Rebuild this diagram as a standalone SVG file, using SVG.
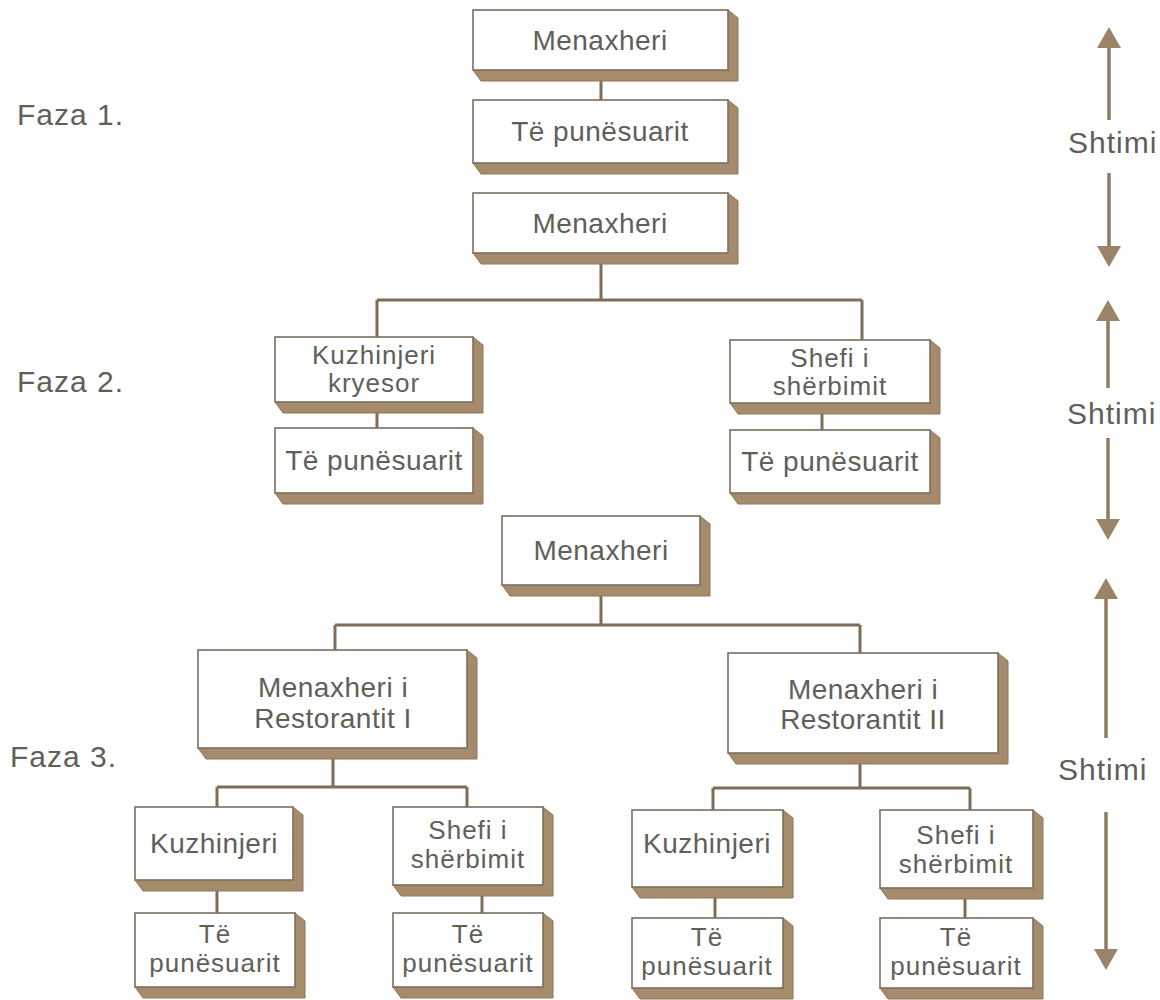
<svg xmlns="http://www.w3.org/2000/svg" width="1160" height="1000" viewBox="0 0 1160 1000">
  <style>
    .box { fill: #ffffff; stroke: #7a6e5e; stroke-width: 1.6; }
    .shade { fill: #a58b6b; stroke: #8d765a; stroke-width: 1; }
    .lbl { font-family: "Liberation Sans", Arial, sans-serif; font-size: 28px; letter-spacing: 0.5px; fill: #606059; text-anchor: middle; }
    .two { font-size: 26px; letter-spacing: 1px; }
    .side { font-family: "Liberation Sans", Arial, sans-serif; font-size: 30px; letter-spacing: 1px; fill: #606059; }
    .link { fill: none; stroke: #7e6d57; stroke-width: 3; }
    .shaft { stroke: #8f7b62; stroke-width: 3.5; }
    .head { fill: #9a8467; }
  </style>
  <rect width="1160" height="1000" fill="#ffffff"/>

  <!-- phase captions -->
  <text class="side" x="17" y="125">Faza 1.</text>
  <text class="side" x="17" y="392">Faza 2.</text>
  <text class="side" x="10" y="767">Faza 3.</text>

  <!-- connectors -->
  <g id="connectors">
    <path class="link" d="M601,81 V100"/>
    <path class="link" d="M601,264 V300 M377,300 H862 M377,300 V337 M862,300 V340"/>
    <path class="link" d="M377,413 V428"/>
    <path class="link" d="M822,414 V430"/>
    <path class="link" d="M601,596 V625 M335,625 H860 M335,625 V650 M860,625 V653"/>
    <path class="link" d="M333,759 V787 M217,787 H467 M217,787 V807 M467,787 V807"/>
    <path class="link" d="M217,891 V913"/>
    <path class="link" d="M482,896 V913"/>
    <path class="link" d="M860,764 V788 M713,788 H970 M713,788 V810 M970,788 V810"/>
    <path class="link" d="M715,898 V918"/>
    <path class="link" d="M965,899 V918"/>
  </g>

  <!-- phase 1 -->
  <g id="p1-menaxheri">
    <path class="shade" d="M728,10 L738,18 L738,81 L481,81 L473,70 Z"/>
    <rect class="box" x="473" y="10" width="255" height="60"/>
    <text class="lbl" x="600" y="50">Menaxheri</text>
  </g>
  <g id="p1-punesuarit">
    <path class="shade" d="M728,100 L738,108 L738,174 L481,174 L473,163 Z"/>
    <rect class="box" x="473" y="100" width="255" height="63"/>
    <text class="lbl" x="600" y="141">Të punësuarit</text>
  </g>

  <!-- phase 2 -->
  <g id="p2-menaxheri">
    <path class="shade" d="M728,193 L738,201 L738,264 L481,264 L473,253 Z"/>
    <rect class="box" x="473" y="193" width="255" height="60"/>
    <text class="lbl" x="600" y="233">Menaxheri</text>
  </g>
  <g id="p2-kuzhinjeri">
    <path class="shade" d="M473,337 L483,345 L483,413 L283,413 L275,402 Z"/>
    <rect class="box" x="275" y="337" width="198" height="65"/>
    <text class="lbl two" x="374" y="364">Kuzhinjeri</text>
    <text class="lbl two" x="374" y="392">kryesor</text>
  </g>
  <g id="p2-kuzhinjeri-punesuarit">
    <path class="shade" d="M473,428 L483,436 L483,504 L283,504 L275,493 Z"/>
    <rect class="box" x="275" y="428" width="198" height="65"/>
    <text class="lbl" x="374" y="470">Të punësuarit</text>
  </g>
  <g id="p2-shefi">
    <path class="shade" d="M930,340 L940,348 L940,414 L738,414 L730,403 Z"/>
    <rect class="box" x="730" y="340" width="200" height="63"/>
    <text class="lbl two" x="830" y="367">Shefi i</text>
    <text class="lbl two" x="830" y="395">shërbimit</text>
  </g>
  <g id="p2-shefi-punesuarit">
    <path class="shade" d="M930,430 L940,438 L940,504 L738,504 L730,493 Z"/>
    <rect class="box" x="730" y="430" width="200" height="63"/>
    <text class="lbl" x="830" y="471">Të punësuarit</text>
  </g>

  <!-- phase 3 -->
  <g id="p3-menaxheri">
    <path class="shade" d="M700,516 L710,524 L710,596 L510,596 L502,585 Z"/>
    <rect class="box" x="502" y="516" width="198" height="69"/>
    <text class="lbl" x="601" y="560">Menaxheri</text>
  </g>
  <g id="p3-restoranti-1">
    <path class="shade" d="M467,650 L477,658 L477,759 L206,759 L198,748 Z"/>
    <rect class="box" x="198" y="650" width="269" height="98"/>
    <text class="lbl" x="333" y="697">Menaxheri i</text>
    <text class="lbl" x="333" y="728">Restorantit I</text>
  </g>
  <g id="p3-restoranti-2">
    <path class="shade" d="M998,653 L1008,661 L1008,764 L736,764 L728,753 Z"/>
    <rect class="box" x="728" y="653" width="270" height="100"/>
    <text class="lbl" x="863" y="699">Menaxheri i</text>
    <text class="lbl" x="863" y="729">Restorantit II</text>
  </g>
  <g id="p3-r1-kuzhinjeri">
    <path class="shade" d="M293,807 L303,815 L303,891 L143,891 L135,880 Z"/>
    <rect class="box" x="135" y="807" width="158" height="73"/>
    <text class="lbl" x="214" y="853">Kuzhinjeri</text>
  </g>
  <g id="p3-r1-shefi">
    <path class="shade" d="M543,807 L553,815 L553,896 L401,896 L393,885 Z"/>
    <rect class="box" x="393" y="807" width="150" height="78"/>
    <text class="lbl two" x="468" y="839">Shefi i</text>
    <text class="lbl two" x="468" y="868">shërbimit</text>
  </g>
  <g id="p3-r1-kuzhinjeri-punesuarit">
    <path class="shade" d="M295,913 L305,921 L305,998 L143,998 L135,987 Z"/>
    <rect class="box" x="135" y="913" width="160" height="74"/>
    <text class="lbl two" x="215" y="943">Të</text>
    <text class="lbl two" x="215" y="972">punësuarit</text>
  </g>
  <g id="p3-r1-shefi-punesuarit">
    <path class="shade" d="M543,913 L553,921 L553,998 L401,998 L393,987 Z"/>
    <rect class="box" x="393" y="913" width="150" height="74"/>
    <text class="lbl two" x="468" y="943">Të</text>
    <text class="lbl two" x="468" y="972">punësuarit</text>
  </g>
  <g id="p3-r2-kuzhinjeri">
    <path class="shade" d="M783,810 L793,818 L793,898 L640,898 L632,887 Z"/>
    <rect class="box" x="632" y="810" width="151" height="77"/>
    <text class="lbl" x="707" y="853">Kuzhinjeri</text>
  </g>
  <g id="p3-r2-shefi">
    <path class="shade" d="M1033,810 L1043,818 L1043,899 L888,899 L880,888 Z"/>
    <rect class="box" x="880" y="810" width="153" height="78"/>
    <text class="lbl two" x="956" y="844">Shefi i</text>
    <text class="lbl two" x="956" y="873">shërbimit</text>
  </g>
  <g id="p3-r2-kuzhinjeri-punesuarit">
    <path class="shade" d="M783,918 L793,926 L793,999 L640,999 L632,988 Z"/>
    <rect class="box" x="632" y="918" width="151" height="70"/>
    <text class="lbl two" x="707" y="946">Të</text>
    <text class="lbl two" x="707" y="975">punësuarit</text>
  </g>
  <g id="p3-r2-shefi-punesuarit">
    <path class="shade" d="M1033,918 L1043,926 L1043,999 L888,999 L880,988 Z"/>
    <rect class="box" x="880" y="918" width="153" height="70"/>
    <text class="lbl two" x="956" y="946">Të</text>
    <text class="lbl two" x="956" y="975">punësuarit</text>
  </g>

  <!-- growth indicators -->
  <g id="growth-1">
    <line class="shaft" x1="1109" y1="45" x2="1109" y2="120"/>
    <polygon class="head" points="1109,27 1097,48 1121,48"/>
    <text class="side" x="1068" y="153">Shtimi</text>
    <line class="shaft" x1="1109" y1="173" x2="1109" y2="250"/>
    <polygon class="head" points="1109,267 1097,246 1121,246"/>
  </g>
  <g id="growth-2">
    <line class="shaft" x1="1108" y1="318" x2="1108" y2="388"/>
    <polygon class="head" points="1108,300 1096,321 1120,321"/>
    <text class="side" x="1067" y="424">Shtimi</text>
    <line class="shaft" x1="1108" y1="438" x2="1108" y2="522"/>
    <polygon class="head" points="1108,540 1096,519 1120,519"/>
  </g>
  <g id="growth-3">
    <line class="shaft" x1="1106" y1="596" x2="1106" y2="738"/>
    <polygon class="head" points="1106,578 1094,599 1118,599"/>
    <text class="side" x="1058" y="780">Shtimi</text>
    <line class="shaft" x1="1106" y1="812" x2="1106" y2="952"/>
    <polygon class="head" points="1106,970 1094,949 1118,949"/>
  </g>
</svg>
